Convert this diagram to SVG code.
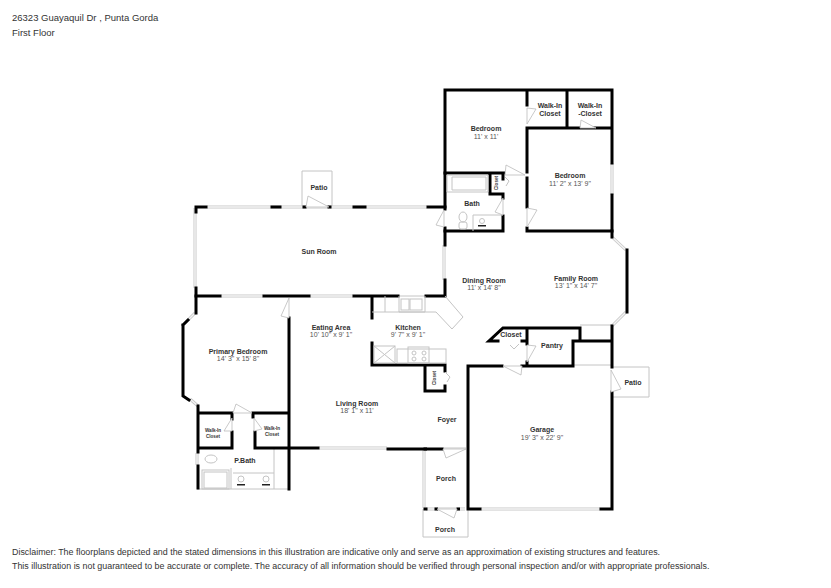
<svg xmlns="http://www.w3.org/2000/svg" width="831" height="588" viewBox="0 0 831 588">
<style>
.w{fill:none;stroke:#000;stroke-width:3;stroke-linecap:square;stroke-linejoin:miter}
.g{fill:none;stroke:#c4c4c4;stroke-width:1}
.wo{fill:none;stroke:#c8c8c8;stroke-width:3}
.wi{fill:none;stroke:#f4f4f4;stroke-width:1.400}
.d{fill:#fff;stroke:#bbb;stroke-width:.8}
text{font-family:"Liberation Sans",Arial,sans-serif}
.h{font-size:9.500px;fill:#333}
.f{font-size:8.900px;fill:#333}
.n{font-size:7px;font-weight:bold;fill:#333;text-anchor:middle}
.s{font-size:7px;fill:#555;text-anchor:middle}
.t{font-size:4.600px;font-weight:bold;fill:#333;text-anchor:middle}
</style>
<defs><path id="win" d="M470 90H500M612 163V195M195 208V288M444 245V280M221 296H263M310 296H353M319 448H387M481 509H600M612 237L626 250M612 326L626 312M195 313L183 325M190 399L198 406M424 449V508M426 509H465M197 453V465M207 207H427"/></defs>
<rect width="831" height="588" fill="#fff"/>
<text class="h" x="12" y="21">26323 Guayaquil Dr , Punta Gorda</text>
<text class="h" x="12" y="36">First Floor</text>

<!-- light outlines -->
<path class="g" d="M302 207V171H332V207M611 367H649V397H611M580 325H611M573 365H611M423 509V537H468V509M443 448H466M399 296H425M197 489H289M274 448V489"/>

<!-- windows -->
<use href="#win" class="wo"/>
<use href="#win" class="wi"/>

<!-- walls -->
<g id="walls">
<path class="w" d="M568 128H612V90H445V209M527 90V105M567 90V128M527 128V172M527 178V207M527 228V231H612V195M612 163V128M527 128H568M445 228V245"/>
<path class="w" d="M445 173H504M490 173V194H503V198M503 173V179M503 216V231H445"/>
<path class="w" d="M428 207H445M354 207H365M272 207H280M304 207H305M329 207H330M196 207H206M196 207V212M445 280V296H426M398 296H354M309 296H264M220 296H196"/>
<path class="w" d="M196 288V313M183 325V396L189 400M183 325L188 320M198 406V452M198 466V488M198 413H232V419M232 432V448H198M253 413H289M253 413V417M255 432V448H289M289 318V489M290 448H318M442 449H388"/>
<path class="w" d="M372 297V318M372 343V365H444M425 365V391H445V386M445 365V371"/>
<path class="w" d="M627 250V312M612 231V237M612 326V367M612 392V509M601 509H612M468 366V509H480M469 366H502M522 366H573V341H612M527 366V362M527 344V328H503L489 341H498M522 341H527M527 328H580V340"/>
<path class="w" d="M425 509H426M436 509H436.500M458 509H458.500M425 449H425.500"/>
</g>

<!-- doors -->
<g id="doors">
<path class="d" d="M527 108V124L536 109Z"/>
<path class="d" d="M580 128H596L581 120Z"/>
<path class="d" d="M505 175H525L506 165Z"/>
<path class="d" d="M527 208V227L537 210Z"/>
<path class="d" d="M503 198V215L495 212Z"/>
<path class="d" d="M444 210V227L436 225Z"/>
<path class="d" d="M306 207H329L308 196Z"/>
<path class="d" d="M289 298V318L281 316Z"/>
<path class="d" d="M233 413H252L236 404Z"/>
<path class="d" d="M232 418V431L224 431Z"/>
<path class="d" d="M254 418V431L262 429Z"/>
<path class="d" d="M443 449H466L446 458Z"/>
<path class="d" d="M437 509H457L454 518Z"/>
<path class="d" d="M611 370V392L621 389Z"/>
<path class="d" d="M503 366H522L521 375Z"/>
<path class="d" d="M527 345V362L536 346Z"/>
<path class="g" d="M510 345L514 349L519 344M445 372L450 377L447 382M505 177L509 181L506 186"/>
</g>

<!-- fixtures -->
<g id="fixtures">
<path class="g" d="M447 175H488V192H447ZM452 177H486V190H452ZM473 215H503M473 215V231M372 312H436L452 329L463 317L445 296M385 296V312M399 296V312H425V296"/>
<ellipse class="g" cx="463" cy="217" rx="4" ry="5"/>
<rect class="g" x="459" y="222" width="8" height="7" rx="2"/>
<circle class="g" cx="482" cy="221" r="2.500"/>
<rect x="478" y="225" width="8" height="1.500" fill="#222"/>
<rect class="g" x="401" y="299" width="8" height="11"/><rect class="g" x="410" y="299" width="12" height="11"/>
<rect class="g" x="374" y="346" width="21" height="17"/>
<path class="g" d="M374 346L395 363M395 346L374 363"/>
<rect class="g" x="397" y="349" width="49" height="14"/>
<rect class="g" x="408" y="347" width="21" height="16"/>
<circle class="g" cx="414" cy="353" r="2"/><circle class="g" cx="424" cy="353" r="2"/><circle class="g" cx="414" cy="359" r="2"/><circle class="g" cx="424" cy="359" r="2"/>
<ellipse class="g" cx="211" cy="459" rx="6" ry="4"/>
<rect class="g" x="202" y="470" width="27" height="19"/>
<rect class="g" x="204" y="472" width="23" height="16"/>
<path class="g" d="M231 468V489M233 473H274"/>
<circle class="g" cx="241" cy="479" r="3"/><circle class="g" cx="266" cy="479" r="3"/>
<rect x="237" y="484" width="8" height="1.500" fill="#222"/><rect x="262" y="484" width="8" height="1.500" fill="#222"/>
</g>

<!-- labels -->
<g id="labels">
<text class="n" x="486" y="131">Bedroom</text><text class="s" x="486" y="139">11' x 11'</text>
<text class="n" x="550" y="108">Walk-In</text><text class="n" x="550" y="116">Closet</text>
<text class="n" x="590" y="108">Walk-In</text><text class="n" x="590" y="116">-Closet</text>
<text class="n" x="570" y="178">Bedroom</text><text class="s" x="570" y="186">11' 2" x 13' 9"</text>
<text class="n" x="472" y="206">Bath</text>
<text class="t" transform="translate(498 183) rotate(-90)">Closet</text>
<text class="n" x="319" y="190">Patio</text>
<text class="n" x="319" y="254">Sun Room</text>
<text class="n" x="484" y="283">Dining Room</text><text class="s" x="484" y="290">11' x 14' 8"</text>
<text class="n" x="576" y="281">Family Room</text><text class="s" x="576" y="288">13' 1" x 14' 7"</text>
<text class="n" x="331" y="330">Eating Area</text><text class="s" x="331" y="337">10' 10" x 9' 1"</text>
<text class="n" x="408" y="330">Kitchen</text><text class="s" x="408" y="337">9' 7" x 9' 1"</text>
<text class="n" x="238" y="354">Primary Bedroom</text><text class="s" x="238" y="361">14' 3" x 15' 8"</text>
<text class="n" x="511" y="337">Closet</text>
<text class="n" x="552" y="348">Pantry</text>
<text class="t" transform="translate(436 378) rotate(-90)">Closet</text>
<text class="n" x="633" y="385">Patio</text>
<text class="n" x="357" y="406">Living Room</text><text class="s" x="357" y="413">18' 1" x 11'</text>
<text class="n" x="447" y="422">Foyer</text>
<text class="n" x="542" y="432">Garage</text><text class="s" x="542" y="440">19' 3" x 22' 9"</text>
<text class="t" x="213" y="432">Walk-In</text><text class="t" x="213" y="438">Closet</text>
<text class="t" x="272" y="430">Walk-In</text><text class="t" x="272" y="436">Closet</text>
<text class="n" x="245" y="463">P.Bath</text>
<text class="n" x="446" y="481">Porch</text>
<text class="n" x="445" y="532">Porch</text>
</g>

<text class="f" x="12" y="555">Disclaimer: The floorplans depicted and the stated dimensions in this illustration are indicative only and serve as an approximation of existing structures and features.</text>
<text class="f" x="12" y="569">This illustration is not guaranteed to be accurate or complete. The accuracy of all information should be verified through personal inspection and/or with appropriate professionals.</text>
</svg>
